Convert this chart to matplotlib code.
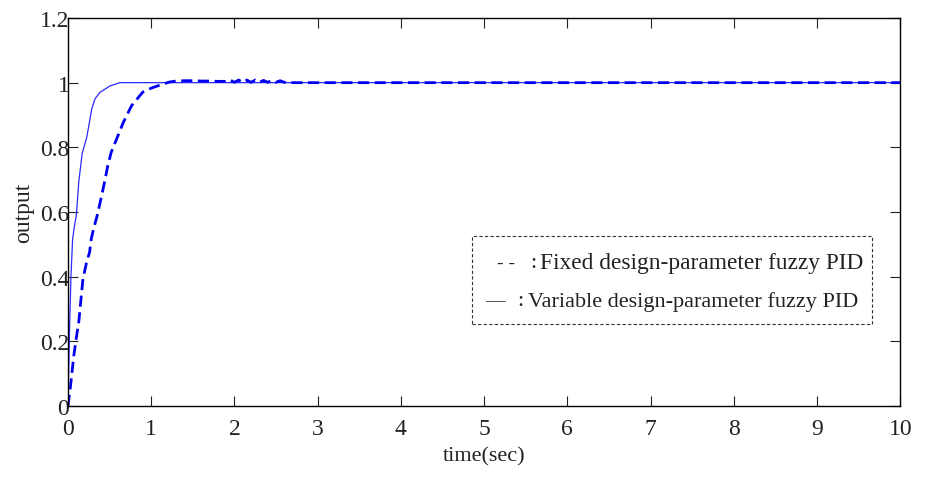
import numpy as np
import matplotlib
matplotlib.use('Agg')
import matplotlib.pyplot as plt

# step response
# fixed design-parameter fuzzy PID (dashed)
t_fixed = [0.0, 0.03, 0.07, 0.10, 0.13, 0.18, 0.22, 0.26, 0.28, 0.31, 0.35, 0.40,
           0.44, 0.48, 0.52, 0.585, 0.665, 0.765, 0.90, 1.00, 1.10, 1.22,
           1.30, 1.40, 1.50, 1.60, 1.70, 1.80, 1.90, 1.95, 2.00, 2.05, 2.10,
           2.15, 2.20, 2.25, 2.30, 2.35, 2.40, 2.45, 2.50, 2.55, 2.60, 2.70, 3.0, 10.0]
y_fixed = [0.0, 0.06, 0.155, 0.21, 0.26, 0.393, 0.44, 0.476, 0.517, 0.55, 0.588, 0.645,
           0.693, 0.745, 0.785, 0.826, 0.877, 0.929, 0.971, 0.983, 0.992, 1.002,
           1.005, 1.006, 1.006, 1.005, 1.005, 1.004, 1.004, 1.008, 1.001, 1.008, 1.001,
           1.008, 1.001, 1.008, 1.001, 1.007, 1.001, 1.007, 1.001, 1.006, 1.001, 1.0,
           1.0, 1.0]

# variable design-parameter fuzzy PID (solid)
t_var = [0.0, 0.02, 0.036, 0.056, 0.08, 0.10, 0.13, 0.17, 0.225, 0.265, 0.285,
         0.325, 0.385, 0.505, 0.625, 10.0]
y_var = [0.0, 0.25, 0.40, 0.517, 0.56, 0.588, 0.693, 0.78, 0.83, 0.888, 0.918,
         0.95, 0.97, 0.99, 1.0, 1.0]

legend_marks = ["- -", "\u2014"]
legend_names = ["Fixed design-parameter fuzzy PID",
                "Variable design-parameter fuzzy PID"]

plt.rcParams['font.family'] = ['Liberation Serif', 'DejaVu Serif']

fig = plt.figure(figsize=(9.31, 4.81), dpi=100)
ax = fig.add_axes([0.073, 0.154, 0.894, 0.8065])

ax.plot(t_var, y_var, color='#2a2aff', linewidth=0.9)
ax.plot(t_fixed, y_fixed, color='#0000ee', linewidth=2.0, linestyle=(0, (4, 2)))

ax.set_xlim(0, 10)
ax.set_ylim(0, 1.2)
ax.set_xticks(np.arange(0, 11, 1))
ax.set_yticks([0, 0.2, 0.4, 0.6, 0.8, 1, 1.2])
ax.set_yticklabels(['0', '0.2', '0.4', '0.6', '0.8', '1', '1.2'])
ax.tick_params(direction='in', length=7.5, width=0.8, top=True, right=True,
               labelsize=17, colors='#222222')
ax.tick_params(axis='x', pad=9)
ax.tick_params(axis='y', pad=-1)
for s in ax.spines.values():
    s.set_linewidth(1.0)

ax.set_xlabel('time(sec)', fontsize=16, labelpad=5, color='#222222')
ax.set_ylabel('output', fontsize=17, labelpad=4, color='#222222')

# hand-made legend box with dashed border
box = plt.Rectangle((0.4856, 0.211), 0.4808, 0.227, transform=ax.transAxes,
                    fill=False, linestyle=(0, (3, 2)), linewidth=0.8, edgecolor='#333333')
ax.add_patch(box)
rows = [(0.371, 0.5156, 0.555, 0.567, 16.8), (0.271, 0.501, 0.540, 0.553, 16.0)]
for (yy, xm, xc, xn, fs), mark, name in zip(rows, legend_marks, legend_names):
    ax.text(xm, yy, mark, transform=ax.transAxes, fontsize=14, va='center',
            ha='left', color='#222222')
    ax.text(xc, yy, ':', transform=ax.transAxes, fontsize=16, va='center',
            ha='left', color='#222222')
    ax.text(xn, yy, name, transform=ax.transAxes, fontsize=fs, va='center',
            ha='left', color='#222222')

fig.savefig('out.png', dpi=100)
